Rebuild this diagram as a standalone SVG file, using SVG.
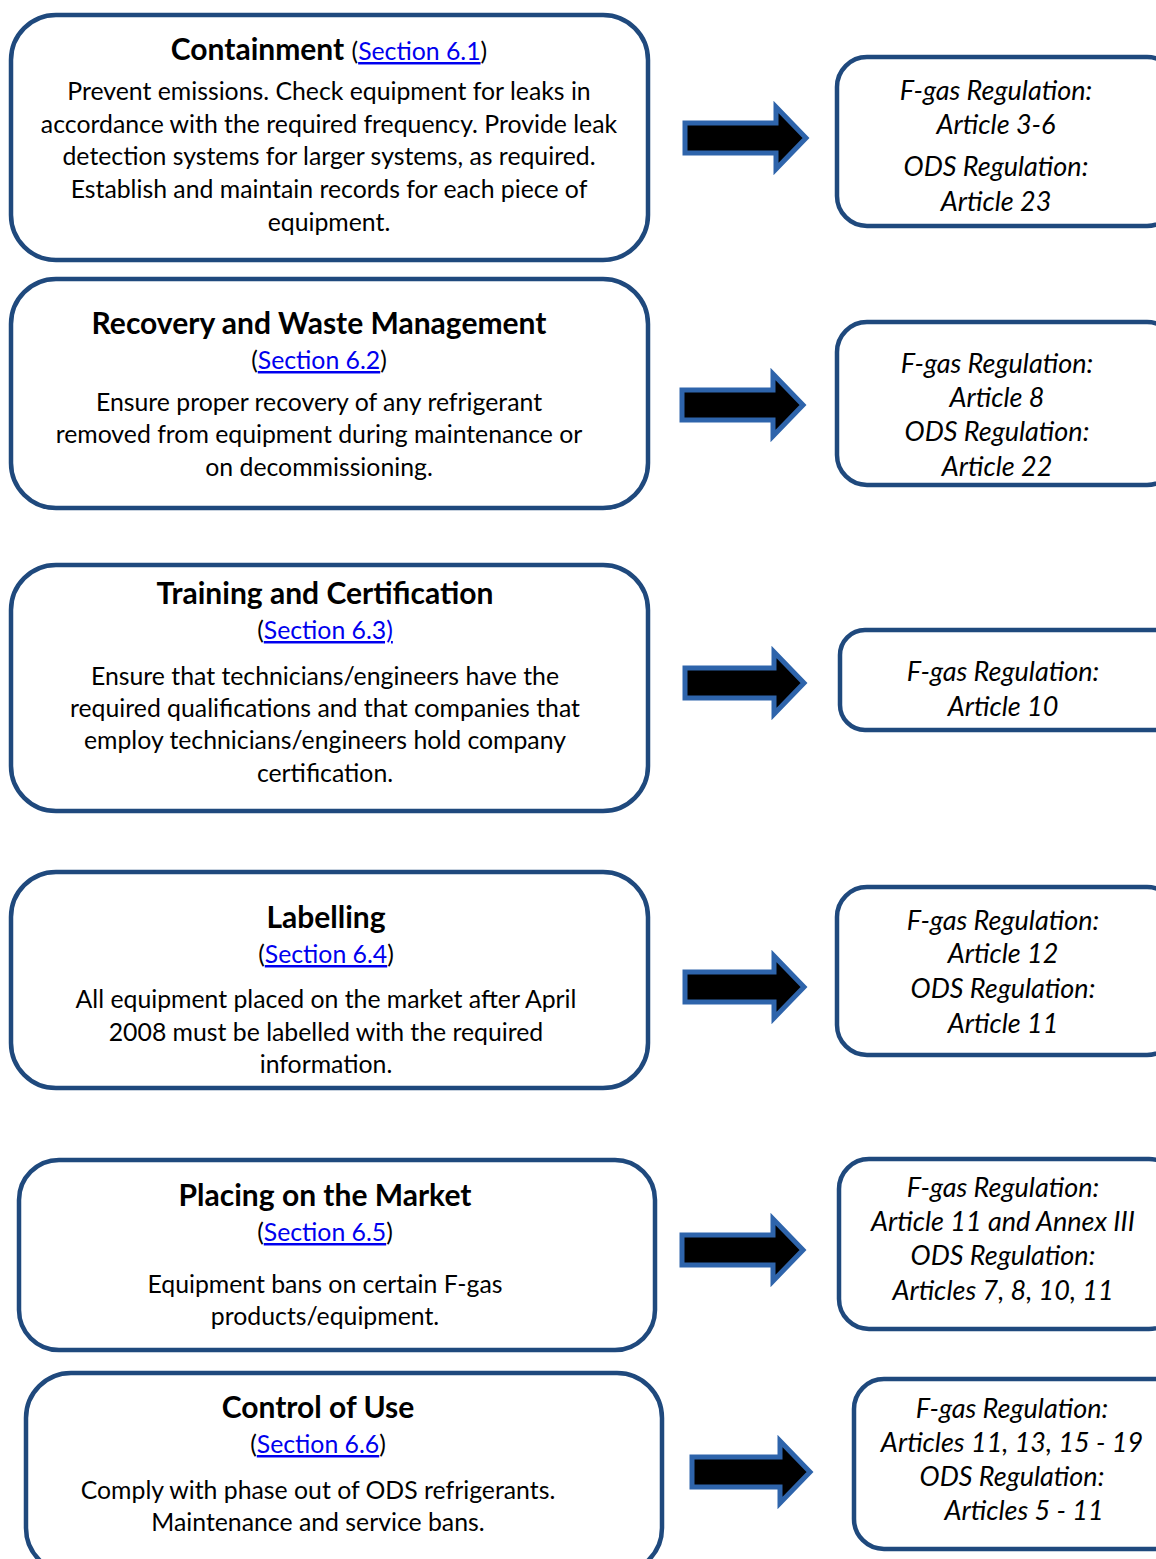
<svg xmlns="http://www.w3.org/2000/svg" width="1156" height="1559" viewBox="0 0 1156 1559">
<style>
.box{fill:#fff;stroke:#1f497d;stroke-width:4.5}
.arr{fill:#000;stroke:#2e64ab;stroke-width:5;stroke-linejoin:miter}
text{font-family:Lato,"Liberation Sans",sans-serif;fill:#000;text-anchor:middle}
.t{font-size:30px;font-weight:bold}
.b{font-size:24.8px}
.r{font-size:27px;font-style:italic}
.lk{fill:#0000ee;text-decoration:underline}
</style>
<rect width="1156" height="1559" fill="#fff"/>
<g id="connectors">
<path class="arr" d="M685,123 H776 V107 L806,138 L776,169 V153 H685 Z"/>
<path class="arr" d="M682,390 H773 V374 L803,405 L773,436 V420 H682 Z"/>
<path class="arr" d="M685,668 H774 V652 L804,683 L774,714 V698 H685 Z"/>
<path class="arr" d="M685,972 H774 V956 L804,987 L774,1018 V1002 H685 Z"/>
<path class="arr" d="M682,1235 H773 V1219 L803,1250 L773,1281 V1265 H682 Z"/>
<path class="arr" d="M692,1457 H780 V1441 L810,1472 L780,1503 V1487 H692 Z"/>
</g>
<g id="containment">
<rect class="box" x="11" y="15" width="637" height="245" rx="45"/>
<text class="t" x="329" y="60">Containment <tspan class="b" style="font-weight:normal">(<tspan class="lk">Section 6.1</tspan>)</tspan></text>
<text class="b" x="329" y="100">Prevent emissions. Check equipment for leaks in</text>
<text class="b" x="329" y="133">accordance with the required frequency. Provide leak</text>
<text class="b" x="329" y="165">detection systems for larger systems, as required.</text>
<text class="b" x="329" y="198">Establish and maintain records for each piece of</text>
<text class="b" x="329" y="231">equipment.</text>
</g>
<g id="recovery">
<rect class="box" x="11" y="279" width="637" height="229" rx="45"/>
<text class="t" x="319" y="334">Recovery and Waste Management</text>
<text class="b" x="319" y="369">(<tspan class="lk">Section 6.2</tspan>)</text>
<text class="b" x="319" y="411">Ensure proper recovery of any refrigerant</text>
<text class="b" x="319" y="443">removed from equipment during maintenance or</text>
<text class="b" x="319" y="476">on decommissioning.</text>
</g>
<g id="training">
<rect class="box" x="11" y="565" width="637" height="246" rx="45"/>
<text class="t" x="325" y="604">Training and Certification</text>
<text class="b" x="325" y="639">(<tspan class="lk">Section 6.3)</tspan></text>
<text class="b" x="325" y="685">Ensure that technicians/engineers have the</text>
<text class="b" x="325" y="717">required qualifications and that companies that</text>
<text class="b" x="325" y="749">employ technicians/engineers hold company</text>
<text class="b" x="325" y="782">certification.</text>
</g>
<g id="labelling">
<rect class="box" x="11" y="872" width="637" height="216" rx="45"/>
<text class="t" x="326" y="928">Labelling</text>
<text class="b" x="326" y="963">(<tspan class="lk">Section 6.4</tspan>)</text>
<text class="b" x="326" y="1008">All equipment placed on the market after April</text>
<text class="b" x="326" y="1041">2008 must be labelled with the required</text>
<text class="b" x="326" y="1073">information.</text>
</g>
<g id="placing">
<rect class="box" x="19" y="1160" width="636" height="190" rx="40"/>
<text class="t" x="325" y="1206">Placing on the Market</text>
<text class="b" x="325" y="1241">(<tspan class="lk">Section 6.5</tspan>)</text>
<text class="b" x="325" y="1293">Equipment bans on certain F-gas</text>
<text class="b" x="325" y="1325">products/equipment.</text>
</g>
<g id="control">
<rect class="box" x="26" y="1373" width="636" height="200" rx="45"/>
<text class="t" x="318" y="1418">Control of Use</text>
<text class="b" x="318" y="1453">(<tspan class="lk">Section 6.6</tspan>)</text>
<text class="b" x="318" y="1499">Comply with phase out of ODS refrigerants.</text>
<text class="b" x="318" y="1531">Maintenance and service bans.</text>
</g>
<g id="ref1">
<rect class="box" x="837" y="57" width="340" height="169" rx="30"/>
<text class="r" x="996" y="100">F-gas Regulation:</text>
<text class="r" x="996" y="134">Article 3-6</text>
<text class="r" x="996" y="176">ODS Regulation:</text>
<text class="r" x="996" y="211">Article 23</text>
</g>
<g id="ref2">
<rect class="box" x="837" y="322" width="340" height="163" rx="30"/>
<text class="r" x="997" y="373">F-gas Regulation:</text>
<text class="r" x="997" y="407">Article 8</text>
<text class="r" x="997" y="441">ODS Regulation:</text>
<text class="r" x="997" y="476">Article 22</text>
</g>
<g id="ref3">
<rect class="box" x="840" y="630" width="340" height="100" rx="25"/>
<text class="r" x="1003" y="681">F-gas Regulation:</text>
<text class="r" x="1003" y="716">Article 10</text>
</g>
<g id="ref4">
<rect class="box" x="837" y="887" width="340" height="168" rx="30"/>
<text class="r" x="1003" y="930">F-gas Regulation:</text>
<text class="r" x="1003" y="963">Article 12</text>
<text class="r" x="1003" y="998">ODS Regulation:</text>
<text class="r" x="1003" y="1033">Article 11</text>
</g>
<g id="ref5">
<rect class="box" x="839" y="1159" width="340" height="170" rx="30"/>
<text class="r" x="1003" y="1197">F-gas Regulation:</text>
<text class="r" x="1003" y="1231">Article 11 and Annex III</text>
<text class="r" x="1003" y="1265">ODS Regulation:</text>
<text class="r" x="1003" y="1300">Articles 7, 8, 10, 11</text>
</g>
<g id="ref6">
<rect class="box" x="854" y="1379" width="340" height="170" rx="30"/>
<text class="r" x="1012" y="1418">F-gas Regulation:</text>
<text class="r" x="1012" y="1452">Articles 11, 13, 15 - 19</text>
<text class="r" x="1012" y="1486">ODS Regulation:</text>
<text class="r" x="1024" y="1520">Articles 5 - 11</text>
</g>
</svg>
